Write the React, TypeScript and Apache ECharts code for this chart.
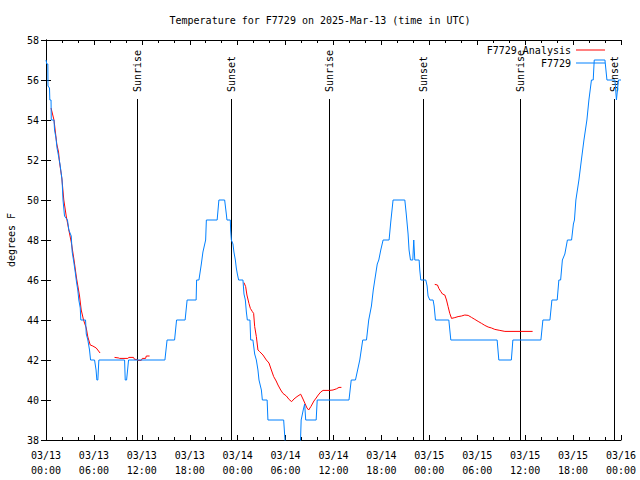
import React, { useEffect, useRef } from "react";
import * as echarts from "echarts";

const FONT = '"DejaVu Sans Mono", "Liberation Mono", monospace';
const TITLE = "Temperature for F7729 on 2025-Mar-13 (time in UTC)";
const Y_NAME = "degrees F";
const OBS_NAME = "F7729";
const ANALYSIS_NAME = "F7729 Analysis";

const yMin = 38;
const yMax = 58;
const yStep = 2;
const xMinHours = 0;
const xMaxHours = 72;
const xStepHours = 6;

const xTickLabels = [
  "03/13\n00:00", "03/13\n06:00", "03/13\n12:00", "03/13\n18:00",
  "03/14\n00:00", "03/14\n06:00", "03/14\n12:00", "03/14\n18:00",
  "03/15\n00:00", "03/15\n06:00", "03/15\n12:00", "03/15\n18:00",
  "03/16\n00:00",
];

// hours since 03/13 00:00 UTC
const sunHours = [11.38, 23.16, 35.44, 47.22, 59.37, 71.15];
const sunLabels = ["Sunrise", "Sunset", "Sunrise", "Sunset", "Sunrise", "Sunset"];
const SUN_LINE_TOP = 55.05;
const SUN_TEXT_BASE = 55.4;

// observed station temperature [hours, degF]
const observed: [number, number][] = [
  [0.0, 57.0], [0.1, 56.8], [0.23, 56.8], [0.25, 55.7], [0.44, 55.6], [0.48, 55.0],
  [0.63, 55.0], [0.66, 54.0], [1.0, 54.0], [1.07, 53.5], [1.25, 53.1], [1.38, 52.6],
  [1.57, 52.2], [1.75, 51.8], [2.01, 51.0], [2.13, 50.0], [2.32, 49.2], [2.69, 49.0],
  [2.86, 48.5], [3.16, 48.2], [3.28, 47.4], [3.48, 46.9], [3.66, 46.4], [3.82, 45.9],
  [3.98, 45.5], [4.11, 45.0], [4.29, 44.6], [4.36, 44.0], [4.95, 44.0], [5.04, 43.3],
  [5.24, 43.0], [5.45, 42.5], [5.58, 42.0], [6.08, 42.0], [6.27, 41.5], [6.37, 41.0],
  [6.49, 41.0], [6.62, 42.0], [9.84, 42.0], [9.92, 41.0], [10.09, 41.0], [10.34, 42.0],
  [14.89, 42.0], [15.16, 43.0], [16.1, 43.0], [16.35, 44.0], [17.42, 44.0], [17.67, 45.0],
  [18.8, 45.0], [18.86, 46.0], [19.15, 46.0], [19.45, 46.8], [19.65, 47.4], [19.99, 48.0],
  [20.08, 49.0], [21.43, 49.0], [21.65, 50.0], [22.37, 50.0], [22.58, 49.3], [22.66, 49.0],
  [23.08, 49.0], [23.12, 48.5], [23.21, 48.0], [23.41, 47.8], [23.53, 47.4], [23.71, 47.0],
  [23.83, 46.6], [23.96, 46.3], [24.12, 46.0], [24.66, 46.0], [24.79, 45.3], [24.96, 45.0],
  [25.09, 44.4], [25.21, 44.0], [25.54, 44.0], [25.63, 43.0], [25.91, 43.0], [26.13, 42.3],
  [26.34, 42.0], [26.54, 41.5], [26.67, 41.0], [26.97, 40.5], [27.09, 40.0], [27.69, 40.0],
  [27.79, 39.0], [29.76, 39.0], [30.01, 37.5], [31.83, 37.5], [31.95, 39.0], [32.21, 39.5],
  [32.39, 39.8], [32.52, 39.0], [33.83, 39.0], [33.96, 40.0], [37.94, 40.0], [38.22, 41.0],
  [38.75, 41.0], [39.29, 42.0], [39.66, 43.0], [40.13, 43.0], [40.41, 44.0], [40.75, 44.7],
  [40.98, 45.5], [41.17, 46.0], [41.48, 46.8], [41.67, 47.0], [41.92, 47.5], [42.21, 48.0],
  [42.96, 48.0], [43.17, 48.9], [43.46, 50.0], [44.93, 50.0], [45.11, 49.3], [45.34, 48.3],
  [45.46, 47.5], [45.64, 47.0], [45.93, 47.0], [46.05, 48.0], [46.18, 47.0], [46.72, 47.0],
  [46.8, 46.5], [46.93, 46.0], [47.56, 46.0], [47.72, 45.7], [47.84, 45.2], [48.06, 45.0],
  [48.47, 45.0], [48.6, 44.7], [48.77, 44.0], [50.44, 44.0], [50.69, 43.0], [56.49, 43.0],
  [56.7, 42.0], [58.27, 42.0], [58.46, 43.0], [61.97, 43.0], [62.22, 44.0], [63.1, 44.0],
  [63.35, 45.0], [64.01, 45.0], [64.22, 46.0], [64.44, 46.0], [64.66, 47.0], [64.97, 47.3],
  [65.29, 48.0], [65.81, 48.0], [66.04, 48.8], [66.17, 49.0], [66.35, 50.0], [66.73, 51.0],
  [67.04, 52.0], [67.36, 53.0], [67.73, 54.0], [67.98, 55.0], [68.3, 56.0], [68.52, 56.0],
  [68.65, 57.0], [69.99, 57.0], [70.24, 56.0], [71.24, 56.0], [71.43, 55.0], [71.68, 56.0],
  [72.0, 56.0],
];

// analysis temperature, in separate runs [hours, degF]
const analysisRun1: [number, number][] = [
  [0.63, 54.6], [1.0, 54.0], [1.35, 52.8], [1.57, 52.4], [1.69, 51.9], [1.98, 51.1],
  [2.23, 50.0], [2.53, 49.2], [2.86, 48.5], [3.16, 47.9], [3.51, 47.0], [3.82, 46.1],
  [4.2, 45.2], [4.41, 44.5], [4.7, 44.0], [5.04, 43.6], [5.24, 43.15], [5.54, 42.75],
  [5.86, 42.7], [6.29, 42.6], [6.77, 42.35],
];
const analysisRun2: [number, number][] = [
  [8.58, 42.13], [9.12, 42.1], [9.21, 42.08], [10.25, 42.08], [10.38, 42.13], [10.96, 42.13],
  [11.09, 42.03], [11.38, 42.03], [11.5, 41.98], [11.93, 41.98], [12.06, 42.08], [12.47, 42.08],
  [12.56, 42.2], [12.97, 42.2],
];
const analysisRun3: [number, number][] = [
  [24.79, 45.87], [25.0, 45.67], [25.16, 45.25], [25.41, 44.83], [25.59, 44.58], [25.84, 44.42],
  [26.0, 44.33], [26.13, 43.67], [26.34, 43.17], [26.54, 42.5], [26.75, 42.42], [27.17, 42.25],
  [27.59, 42.0], [27.92, 41.85], [28.22, 41.5], [28.51, 41.17], [28.82, 40.95], [29.05, 40.75],
  [29.39, 40.5], [29.67, 40.33], [30.1, 40.2], [30.45, 40.02], [30.76, 39.92], [31.05, 40.05],
  [31.43, 40.17], [31.89, 40.29], [32.18, 40.05], [32.46, 39.8], [32.68, 39.6], [32.89, 39.5],
  [33.18, 39.68], [33.55, 39.95], [33.83, 40.1], [34.09, 40.25], [34.4, 40.4], [34.69, 40.48],
  [35.53, 40.48], [35.94, 40.5], [36.37, 40.56], [36.69, 40.63], [36.99, 40.63],
];
const analysisRun4: [number, number][] = [
  [48.68, 45.78], [49.02, 45.75], [49.19, 45.58], [49.44, 45.42], [49.65, 45.3], [49.94, 45.25],
  [50.15, 45.0], [50.35, 44.67], [50.56, 44.33], [50.78, 44.08], [51.19, 44.12], [51.6, 44.17],
  [52.03, 44.2], [52.44, 44.25], [52.86, 44.23], [53.28, 44.13], [53.7, 44.03], [54.11, 43.93],
  [54.54, 43.83], [54.95, 43.73], [55.36, 43.65], [55.79, 43.6], [56.2, 43.53], [56.83, 43.48],
  [57.46, 43.43], [60.93, 43.43],
];
const analysisRuns = [analysisRun1, analysisRun2, analysisRun3, analysisRun4];

const RED = "#ff0000";
const BLUE = "#0080ff";

export default function App() {
  const ref = useRef<HTMLDivElement>(null);

  useEffect(() => {
    if (!ref.current) return;
    const chart = echarts.init(ref.current, null, { renderer: "svg" });

    const baseX = {
      type: "value",
      min: xMinHours,
      max: xMaxHours,
      interval: xStepHours,
      axisLine: { show: true, lineStyle: { color: "#000", width: 1 } },
      axisTick: { show: true, inside: true, length: 5, lineStyle: { color: "#000" } },
      minorTick: { show: true, splitNumber: 3, length: 3, lineStyle: { color: "#000" } },
      splitLine: { show: false },
    };
    const baseY = {
      type: "value",
      min: yMin,
      max: yMax,
      interval: yStep,
      axisLine: { show: true, lineStyle: { color: "#000", width: 1 } },
      axisTick: { show: true, inside: true, length: 5, lineStyle: { color: "#000" } },
      splitLine: { show: false },
    };

    const option: any = {
      animation: false,
      backgroundColor: "#ffffff",
      textStyle: { fontFamily: FONT, fontSize: 10, color: "#000" },
      title: {
        text: TITLE,
        left: "center",
        top: 10,
        textStyle: { fontFamily: FONT, fontSize: 10, fontWeight: "normal", color: "#000" },
      },
      legend: {
        orient: "vertical",
        right: 30,
        top: 39,
        align: "right",
        icon: "rect",
        itemWidth: 29,
        itemHeight: 1,
        itemGap: 1,
        selectedMode: false,
        data: [ANALYSIS_NAME, OBS_NAME],
        textStyle: { fontFamily: FONT, fontSize: 10, color: "#000", lineHeight: 12 },
      },
      grid: { left: 46, right: 19, top: 40, bottom: 40, outerBoundsMode: "none", containLabel: false },
      xAxis: [
        {
          ...baseX,
          position: "bottom",
          axisLabel: {
            show: true,
            formatter: (v: number) => xTickLabels[Math.round((v - xMinHours) / xStepHours)] ?? "",
            fontFamily: FONT,
            fontSize: 10,
            color: "#000",
            lineHeight: 15,
            margin: 8,
          },
        },
        { ...baseX, position: "top", axisLabel: { show: false } },
      ],
      yAxis: [
        {
          ...baseY,
          position: "left",
          name: Y_NAME,
          nameLocation: "middle",
          nameRotate: 90,
          nameGap: 30,
          nameTextStyle: { fontFamily: FONT, fontSize: 10, color: "#000" },
          axisLabel: { show: true, margin: 7, fontFamily: FONT, fontSize: 10, color: "#000" },
        },
        { ...baseY, position: "right", axisLabel: { show: false } },
      ],
      series: [
        {
          type: "custom",
          name: "sun",
          coordinateSystem: "cartesian2d",
          xAxisIndex: 0,
          yAxisIndex: 0,
          silent: true,
          clip: false,
          data: sunHours.map((h) => [h, yMin]),
          encode: { x: 0, y: 1 },
          renderItem: (params: any, api: any) => {
            const t = api.value(0);
            const b = api.coord([t, yMin]);
            const tp = api.coord([t, SUN_LINE_TOP]);
            const tx = api.coord([t, SUN_TEXT_BASE]);
            const lx = Math.round(b[0]) + 0.5;
            return {
              type: "group",
              children: [
                {
                  type: "line",
                  shape: { x1: lx, y1: b[1], x2: lx, y2: tp[1] },
                  style: { stroke: "#000", lineWidth: 1 },
                },
                {
                  type: "text",
                  x: lx,
                  y: tx[1],
                  rotation: Math.PI / 2,
                  style: {
                    text: sunLabels[params.dataIndex],
                    fill: "#000",
                    font: `10px ${FONT}`,
                    align: "left",
                    verticalAlign: "middle",
                  },
                },
              ],
            };
          },
        },
        ...analysisRuns.map((run) => ({
          type: "line",
          name: ANALYSIS_NAME,
          data: run,
          xAxisIndex: 0,
          yAxisIndex: 0,
          showSymbol: false,
          symbol: "none",
          color: RED,
          itemStyle: { color: RED },
          lineStyle: { color: RED, width: 1 },
        })),
        {
          type: "line",
          name: OBS_NAME,
          data: observed,
          xAxisIndex: 0,
          yAxisIndex: 0,
          showSymbol: false,
          symbol: "none",
          color: BLUE,
          itemStyle: { color: BLUE },
          lineStyle: { color: BLUE, width: 1 },
        },
      ],
    };

    chart.setOption(option);
    return () => chart.dispose();
  }, []);

  return (
    <div
      ref={ref}
      style={{ position: "fixed", left: 0, top: 0, width: 640, height: 480, background: "#fff" }}
    />
  );
}
